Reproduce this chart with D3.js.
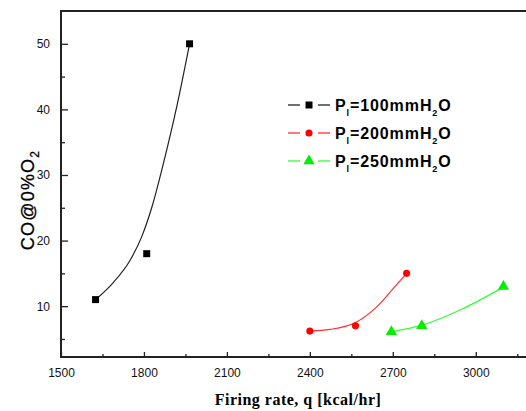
<!DOCTYPE html>
<html><head><meta charset="utf-8">
<script src="https://cdn.jsdelivr.net/npm/d3@7"></script>
<style>body{margin:0;background:#fff}svg{display:block}</style>
</head><body>
<script>
// ---- data ----
const xTicks = [1500, 1800, 2100, 2400, 2700, 3000];
const yTicks = [10, 20, 30, 40, 50];
const seriesNames = ["100", "200", "250"];
const p100x = [1625, 1810, 1965];
const p100y = [11, 18, 50];
const p200x = [2400, 2565, 2750];
const p200y = [6.2, 7, 15];
const p250x = [2695, 2805, 3100];
const p250y = [6.1, 7, 13];
// fitted curves
const fit100x = [1625, 1689, 1750, 1792, 1828, 1870, 1918, 1965];
const fit100y = [11, 13.6, 17.0, 20.6, 25.0, 31.7, 40.3, 50];
const fit200x = [2400, 2473, 2569, 2642, 2702, 2750];
const fit200y = [6.2, 6.45, 7.6, 9.9, 12.7, 15];
const fit250x = [2695, 2805, 2955, 3100];
const fit250y = [6.1, 7.1, 9.65, 12.9];

const W = 526, H = 411;
const svg = d3.select("body").append("svg").attr("width", W).attr("height", H);
const x = d3.scaleLinear().domain([1500, 3200]).range([61, 61 + 1700 * 0.2765]);
const y = d3.scaleLinear().domain([2.25, 55]).range([357, 11]);

const axisColor = "#222";
// minor ticks
svg.append("g").attr("transform", "translate(0,357)")
  .call(d3.axisBottom(x).tickValues([1650, 1950, 2250, 2550, 2850, 3150]).tickSize(-3).tickFormat(""))
  .call(g => { g.select(".domain").remove(); g.selectAll("line").attr("stroke", axisColor).attr("stroke-width", 1.3); });
svg.append("g").attr("transform", "translate(61,0)")
  .call(d3.axisLeft(y).tickValues([5, 15, 25, 35, 45]).tickSize(-4).tickFormat(""))
  .call(g => { g.select(".domain").remove(); g.selectAll("line").attr("stroke", axisColor).attr("stroke-width", 1.3); });
// major ticks
svg.append("g").attr("transform", "translate(0,357)")
  .call(d3.axisBottom(x).tickValues(xTicks).tickSize(-5).tickPadding(11.5).tickFormat(d3.format("d")))
  .call(g => { g.select(".domain").remove(); g.selectAll("line").attr("stroke", axisColor).attr("stroke-width", 1.3);
    g.selectAll("text").attr("font-family", "Liberation Sans, Arial, sans-serif").attr("font-size", 12).attr("fill", "#111"); });
svg.append("g").attr("transform", "translate(61,0)")
  .call(d3.axisLeft(y).tickValues(yTicks).tickSize(-7).tickPadding(11).tickFormat(d3.format("d")))
  .call(g => { g.select(".domain").remove(); g.selectAll("line").attr("stroke", axisColor).attr("stroke-width", 1.3);
    g.selectAll("text").attr("font-family", "Liberation Sans, Arial, sans-serif").attr("font-size", 12).attr("fill", "#111"); });

// frame lines
svg.append("line").attr("x1", 61).attr("x2", W).attr("y1", 357).attr("y2", 357).attr("stroke", axisColor).attr("stroke-width", 2);
svg.append("line").attr("x1", 61).attr("x2", W).attr("y1", 11).attr("y2", 11).attr("stroke", axisColor).attr("stroke-width", 2);
svg.append("line").attr("x1", 61).attr("x2", 61).attr("y1", 10).attr("y2", 358).attr("stroke", axisColor).attr("stroke-width", 2);

const line = d3.line().x(d => x(d[0])).y(d => y(d[1])).curve(d3.curveMonotoneX);
const series = [
  {fx: fit100x, fy: fit100y, px: p100x, py: p100y, color: "#000", lc: "#222", sym: d3.symbolSquare, size: 49},
  {fx: fit200x, fy: fit200y, px: p200x, py: p200y, color: "#ff0000", lc: "#ff3030", sym: d3.symbolCircle, size: 40},
  {fx: fit250x, fy: fit250y, px: p250x, py: p250y, color: "#00ee00", lc: "#30ff30", sym: d3.symbolTriangle, size: 55}
];
series.forEach(s => {
  svg.append("path").datum(d3.zip(s.fx, s.fy)).attr("d", line)
    .attr("fill", "none").attr("stroke", s.lc).attr("stroke-width", 1.2);
  svg.selectAll(null).data(d3.zip(s.px, s.py)).enter().append("path")
    .attr("d", d3.symbol().type(s.sym).size(s.size))
    .attr("transform", d => `translate(${x(d[0])},${y(d[1])})`)
    .attr("fill", s.color);
});

// legend
const leg = svg.append("g");
series.forEach((s, i) => {
  const cy = 105 + i * 28;
  leg.append("line").attr("x1", 288).attr("x2", 300).attr("y1", cy).attr("y2", cy).attr("stroke", s.lc).attr("stroke-width", 1.3);
  leg.append("line").attr("x1", 318).attr("x2", 330).attr("y1", cy).attr("y2", cy).attr("stroke", s.lc).attr("stroke-width", 1.3);
  leg.append("path").attr("d", d3.symbol().type(s.sym).size(s.size)).attr("transform", `translate(309,${cy})`).attr("fill", s.color);
  const t = leg.append("text").attr("x", 335).attr("y", cy + 6)
    .attr("font-family", "Liberation Sans, Arial, sans-serif").attr("font-weight", "bold").attr("font-size", 16)
    .attr("fill", "#000").attr("letter-spacing", 0.9);
  t.append("tspan").text("P");
  t.append("tspan").attr("font-size", 9).attr("dy", 5).text("l");
  t.append("tspan").attr("dy", -5).text("=" + seriesNames[i] + "mmH");
  t.append("tspan").attr("font-size", 9).attr("dy", 5).text("2");
  t.append("tspan").attr("dy", -5).text("O");
});

// axis titles
svg.append("text").attr("x", 298).attr("y", 405).attr("text-anchor", "middle")
  .attr("font-family", "Liberation Serif, Times New Roman, serif").attr("font-weight", "bold").attr("font-size", 16)
  .attr("letter-spacing", 0.5).text("Firing rate, q [kcal/hr]");
const yt = svg.append("text").attr("transform", "translate(34,200) rotate(-90)").attr("text-anchor", "middle")
  .attr("font-family", "Liberation Sans, Arial, sans-serif").attr("font-size", 18).attr("letter-spacing", 1.2)
  .attr("stroke", "#000").attr("stroke-width", 0.3);
yt.append("tspan").text("CO@0%O");
yt.append("tspan").attr("font-size", 12).attr("dy", 5).text("2");
</script>
</body></html>
